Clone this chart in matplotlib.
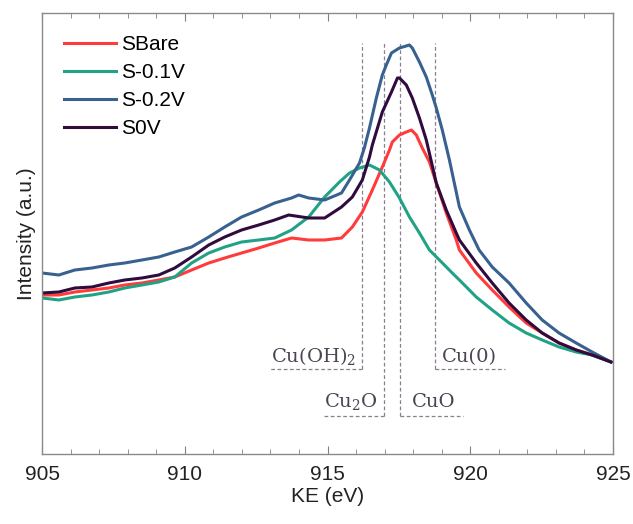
import matplotlib.pyplot as plt
from matplotlib.ticker import MultipleLocator

# ── Data (intensity in arbitrary units) ───────────────────────────────────────
ke_bare = [905.00, 905.59, 906.15, 906.75, 907.34, 907.90, 908.50, 909.09, 909.65, 910.24,
           910.84, 911.40, 911.99, 912.59, 913.15, 913.74, 914.34, 914.90, 915.49, 915.87,
           916.22, 916.57, 916.92, 917.17, 917.27, 917.52, 917.76, 917.94, 918.11, 918.32,
           918.57, 918.81, 919.16, 919.51, 919.62, 920.21, 920.77, 921.36, 921.96, 922.52,
           923.11, 923.71, 924.27, 924.93]
int_bare = [159, 159, 162, 164, 166, 169, 171, 174, 177, 184,
            191, 196, 201, 206, 211, 216, 214, 214, 216, 227,
            242, 264, 287, 304, 312, 319, 322, 324, 319, 306,
            292, 271, 241, 214, 204, 181, 164, 147, 131, 121,
            111, 104, 99, 92]

ke_m01 = [905.00, 905.59, 906.15, 906.75, 907.34, 907.90, 908.50, 909.09, 909.65, 910.24,
          910.84, 911.40, 911.99, 912.59, 913.15, 913.74, 914.34, 914.90, 915.42, 915.77,
          916.12, 916.47, 916.82, 917.17, 917.52, 917.87, 918.22, 918.57, 918.92, 919.37,
          919.62, 920.21, 920.77, 921.36, 921.96, 922.52, 923.11, 923.71, 924.27, 924.93]
int_m01 = [156, 154, 157, 159, 162, 166, 169, 172, 177, 191,
           201, 207, 212, 214, 216, 224, 237, 257, 272, 281,
           286, 289, 284, 272, 256, 237, 221, 204, 194, 181,
           174, 157, 144, 131, 121, 114, 107, 102, 99, 92]

ke_m02 = [905.00, 905.59, 906.15, 906.75, 907.34, 907.90, 908.50, 909.09, 909.65, 910.24,
          910.84, 911.40, 911.99, 912.59, 913.15, 913.74, 913.99, 914.34, 914.90, 915.49,
          915.77, 916.12, 916.29, 916.47, 916.71, 916.92, 917.06, 917.24, 917.52, 917.87,
          917.97, 918.22, 918.46, 918.67, 918.81, 919.02, 919.27, 919.62, 919.97, 920.31,
          920.77, 921.36, 921.96, 922.52, 923.11, 923.71, 924.27, 924.93]
int_m02 = [181, 179, 184, 186, 189, 191, 194, 197, 202, 207,
           217, 227, 237, 244, 251, 256, 259, 256, 254, 261,
           274, 291, 306, 326, 356, 379, 389, 401, 406, 409,
           406, 392, 377, 359, 346, 324, 294, 247, 224, 204,
           187, 171, 151, 134, 121, 111, 102, 92]

ke_0v = [905.00, 905.59, 906.15, 906.75, 907.34, 907.90, 908.50, 909.09, 909.65, 910.24,
         910.84, 911.40, 911.99, 912.59, 913.15, 913.64, 914.34, 914.90, 915.49, 915.87,
         916.22, 916.47, 916.57, 916.92, 917.24, 917.45, 917.52, 917.76, 917.97, 918.22,
         918.46, 918.64, 918.81, 919.16, 919.51, 919.62, 920.21, 920.77, 921.36, 921.96,
         922.52, 923.11, 923.71, 924.27, 924.93]
int_0v = [161, 162, 166, 167, 171, 174, 176, 179, 186, 197,
          209, 217, 224, 229, 234, 239, 236, 236, 247, 257,
          274, 297, 309, 342, 362, 376, 376, 369, 356, 336,
          314, 292, 271, 244, 221, 214, 191, 171, 151, 134,
          121, 111, 104, 99, 92]

labels = ["SBare", "S-0.1V", "S-0.2V", "S0V"]
colors = ["#FF3B3B", "#22A285", "#38618F", "#300B3E"]

# reference guides: name, line KE, bottom of guide, end of the foot, text anchor
ref_names = ["Cu(OH)$_2$", "Cu$_2$O", "CuO", "Cu(0)"]
ref_ke    = [916.20, 916.97, 917.55, 918.78]
ref_low   = [85, 38, 38, 85]
ref_foot  = [912.95, 914.80, 919.73, 921.23]
ref_textx = [916.01, 916.75, 917.94, 919.02]
ref_texty = [92, 47, 47, 92]

# ── Figure ─────────────────────────────────────────────────────────────────────
plt.rcParams["font.family"] = ["Liberation Sans", "DejaVu Sans"]
plt.rcParams["mathtext.fontset"] = "dejavuserif"

fig = plt.figure(figsize=(6.33, 5.24), dpi=100)
ax = fig.add_axes([0.0664, 0.1336, 0.902, 0.8416])

series = [(ke_bare, int_bare), (ke_m01, int_m01), (ke_m02, int_m02), (ke_0v, int_0v)]
for (x, y), lab, c in zip(series, labels, colors):
    ax.plot(x, y, color=c, lw=2.2, label=lab)

guide = "#8C7E8E"
text_c = "#4A4352"
for name, xv, ylo, xf, tx, ty in zip(ref_names, ref_ke, ref_low, ref_foot, ref_textx, ref_texty):
    ax.plot([xv, xv], [ylo, 411], color=guide, lw=0.9, ls=(0, (3, 2)), zorder=0)
    ax.plot([xv, xf], [ylo, ylo], color=guide, lw=0.9, ls=(0, (3, 2)), zorder=0)
    ax.text(tx, ty, name, ha="right" if xf < xv else "left", va="baseline",
            fontsize=14, color=text_c, family="DejaVu Serif")

ax.set_xlim(905, 925)
ax.set_ylim(0, 441)
ax.xaxis.set_major_locator(MultipleLocator(5))
ax.xaxis.set_minor_locator(MultipleLocator(1))
ax.tick_params(axis="x", which="both", direction="in", top=True, colors="#808080",
               labelcolor="#222222", labelsize=15, pad=8)
ax.tick_params(axis="x", which="major", length=6)
ax.tick_params(axis="x", which="minor", length=3.5)
ax.set_yticks([])
for s in ax.spines.values():
    s.set_color("#8A8A8A")
    s.set_linewidth(1.0)

ax.set_xlabel("KE (eV)", fontsize=15, color="#222222", labelpad=2)
ax.set_ylabel("Intensity (a.u.)", fontsize=15, color="#222222", labelpad=4)

ax.legend(loc="upper left", frameon=False, fontsize=15, handlelength=2.5,
          handletextpad=0.25, labelspacing=0.44, borderaxespad=0.65)

fig.savefig("out.png", dpi=100)
